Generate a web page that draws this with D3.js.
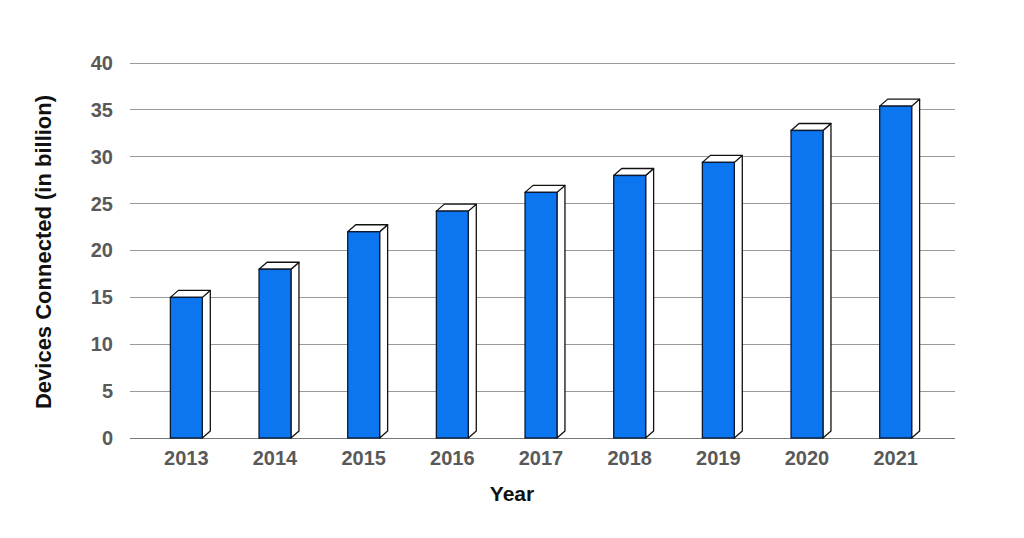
<!DOCTYPE html>
<html><head><meta charset="utf-8">
<script src="https://cdn.jsdelivr.net/npm/d3@7"></script>
<style>body{margin:0;background:#fff;}svg{display:block;}</style>
</head><body>
<script>
const years = ["2013","2014","2015","2016","2017","2018","2019","2020","2021"];
const devices = [15, 18, 22, 24.2, 26.2, 28, 29.4, 32.8, 35.4];
const yTicks = [0,5,10,15,20,25,30,35,40];
const yTitle = "Devices Connected (in billion)";
const xTitle = "Year";

const W=1024,H=538;
const svg=d3.select("body").append("svg").attr("width",W).attr("height",H);
const y=d3.scaleLinear().domain([0,40]).range([438,63]);
const x=d3.scaleBand().domain(years).range([142,940]).paddingInner(0.64).paddingOuter(0.32);
const dx=8, dy=7;
const FONT="Liberation Sans, Arial, sans-serif";

const grid=svg.append("g");
grid.selectAll("line").data(yTicks).join("line")
  .attr("x1",130).attr("x2",955).attr("y1",d=>y(d)).attr("y2",d=>y(d))
  .attr("stroke",d=>d===0?"#777":"#999").attr("stroke-width",1).attr("shape-rendering","crispEdges");

const yAxis=d3.axisLeft(y).tickValues(yTicks).tickSize(0).tickPadding(0);
const ya=svg.append("g").attr("transform","translate(113,0)").call(yAxis);
ya.select(".domain").remove();
ya.selectAll("text").attr("font-family",FONT).attr("font-weight","bold").attr("font-size",20).attr("fill","#595959");

const xAxis=d3.axisBottom(x).tickSize(0).tickPadding(0);
const xa=svg.append("g").attr("transform","translate(0,451)").call(xAxis);
xa.select(".domain").remove();
xa.selectAll("text").attr("font-family",FONT).attr("font-weight","bold").attr("font-size",20).attr("fill","#595959");

const bars=svg.append("g").selectAll("g").data(years.map((yr,i)=>({yr,v:devices[i]}))).join("g");
bars.each(function(d){
  const g=d3.select(this);
  const x0=x(d.yr), w=x.bandwidth(), yt=y(d.v), yb=y(0);
  g.append("path").attr("d",`M${x0+w},${yt}L${x0+w+dx},${yt-dy}L${x0+w+dx},${yb-dy}L${x0+w},${yb}Z`)
    .attr("fill","#fff").attr("stroke","#111").attr("stroke-width",1.3).attr("stroke-linejoin","round");
  g.append("path").attr("d",`M${x0},${yt}L${x0+dx},${yt-dy}L${x0+w+dx},${yt-dy}L${x0+w},${yt}Z`)
    .attr("fill","#fff").attr("stroke","#111").attr("stroke-width",1.3).attr("stroke-linejoin","round");
  g.append("rect").attr("x",x0).attr("y",yt).attr("width",w).attr("height",yb-yt)
    .attr("fill","#0b76f0").attr("stroke","#0a1a33").attr("stroke-width",1.3);
});

svg.append("text").attr("x",512).attr("y",501).attr("text-anchor","middle")
  .attr("font-family",FONT).attr("font-weight","bold").attr("font-size",21).attr("fill","#111").text(xTitle);
svg.append("text").attr("transform","translate(51,252) rotate(-90)").attr("text-anchor","middle")
  .attr("font-family",FONT).attr("font-weight","bold").attr("font-size",22).attr("fill","#111").text(yTitle);
</script>
</body></html>
